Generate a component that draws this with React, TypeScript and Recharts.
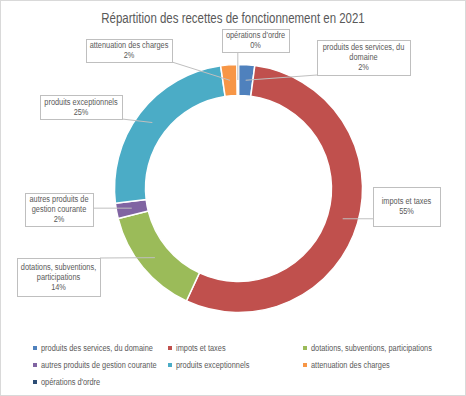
import React from 'react';
import { PieChart, Pie, Cell, Legend } from 'recharts';

const categories = [
  'produits des services, du domaine',
  'impots et taxes',
  'dotations, subventions, participations',
  'autres produits de gestion courante',
  'produits exceptionnels',
  'attenuation des charges',
  "opérations d'ordre",
];
const values = [2.1, 54.8, 14.2, 2.0, 24.6, 2.1, 0.2];
const labelLines = [
  ['produits des services, du', 'domaine'],
  ['impots et taxes'],
  ['dotations, subventions,', 'participations'],
  ['autres produits de', 'gestion courante'],
  ['produits exceptionnels'],
  ['attenuation des charges'],
  ["opérations d'ordre"],
];
const colors = ['#4F81BD', '#C0504D', '#9BBB59', '#8064A2', '#4BACC6', '#F79646', '#2C4D75'];

const chartData = categories.map((name, i) => ({ name, value: values[i] }));

// label boxes, placed like in the excel export
const boxes = [
  { x: 317, y: 40, w: 93, h: 35 },
  { x: 373, y: 187, w: 67, h: 39 },
  { x: 17, y: 258, w: 83, h: 38 },
  { x: 25, y: 193, w: 68, h: 33 },
  { x: 40, y: 95, w: 82, h: 24 },
  { x: 86, y: 39, w: 86, h: 23 },
  { x: 222, y: 29, w: 67, h: 23 },
];

const FONT = '"Liberation Sans", Arial, sans-serif';
const SQUEEZE = 0.82; // arial narrow look
const RAD = Math.PI / 180;

const NarrowText = ({ x, y, size, anchor = 'start', children }: any) => (
  <text
    transform={`translate(${x},${y}) scale(${SQUEEZE},1)`}
    textAnchor={anchor}
    dominantBaseline="central"
    fontSize={size}
    fontFamily={FONT}
    fill="#595959"
  >
    {children}
  </text>
);

const renderLabel = (props: any) => {
  const { cx, cy, midAngle, innerRadius, outerRadius, index, percent } = props;
  const b = boxes[index];
  const r = (innerRadius + outerRadius) / 2;
  const px = cx + r * Math.cos(-midAngle * RAD);
  const py = cy + r * Math.sin(-midAngle * RAD);
  const ex = Math.min(Math.max(px, b.x), b.x + b.w);
  const ey = Math.min(Math.max(py, b.y), b.y + b.h);
  const lines = [...labelLines[index], `${Math.round(percent * 100)}%`];
  const lh = 10;
  const top = b.y + b.h / 2 - ((lines.length - 1) * lh) / 2;
  return (
    <g key={`lbl-${index}`}>
      <line x1={px} y1={py} x2={ex} y2={ey} stroke="#bfbfbf" strokeWidth={1} />
      <rect x={b.x + 0.5} y={b.y + 0.5} width={b.w} height={b.h} fill="#fff" stroke="#bfbfbf" />
      {lines.map((t, k) => (
        <NarrowText key={k} x={b.x + b.w / 2} y={top + k * lh} size={9} anchor="middle">
          {t}
        </NarrowText>
      ))}
    </g>
  );
};

const legendCols = [35, 170, 305];
const legendRows = [348, 365, 382];

const renderLegend = () => (
  <svg width={466} height={60} style={{ position: 'absolute', left: 0, top: 0, overflow: 'visible' }}>
    {categories.map((name, i) => {
      const x = legendCols[i % 3];
      const y = legendRows[Math.floor(i / 3)];
      return (
        <g key={name}>
          <rect x={x - 2} y={y - 2} width={4} height={4} fill={colors[i]} />
          <NarrowText x={x + 6} y={y} size={9}>
            {name}
          </NarrowText>
        </g>
      );
    })}
  </svg>
);

export default function App() {
  return (
    <div
      style={{
        position: 'absolute',
        left: 0,
        top: 0,
        width: 464,
        height: 394,
        border: '1px solid #d9d9d9',
        background: '#fff',
      }}
    >
      <div style={{ position: 'absolute', left: -1, top: -1 }}>
        <PieChart width={466} height={396}>
          <NarrowText x={233} y={18} size={14} anchor="middle">
            Répartition des recettes de fonctionnement en 2021
          </NarrowText>
          <Pie
            data={chartData}
            dataKey="value"
            nameKey="name"
            cx={233.5}
            cy={183.5}
            innerRadius={93}
            outerRadius={124}
            startAngle={90}
            endAngle={-270}
            stroke="#fff"
            strokeWidth={1.5}
            label={renderLabel}
            labelLine={false}
            isAnimationActive={false}
          >
            {chartData.map((d, i) => (
              <Cell key={d.name} fill={colors[i]} />
            ))}
          </Pie>
          <Legend
            content={renderLegend}
            wrapperStyle={{ position: 'absolute', left: 0, top: 0, width: 466, height: 0 }}
          />
        </PieChart>
      </div>
    </div>
  );
}
